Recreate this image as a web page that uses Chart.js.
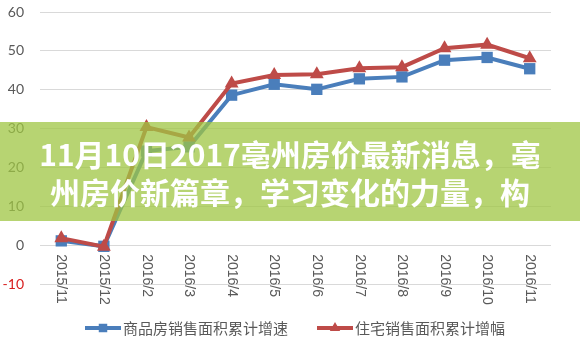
<!DOCTYPE html>
<html>
<head>
<meta charset="utf-8">
<script src="https://cdn.jsdelivr.net/npm/chart.js@4/dist/chart.umd.min.js"></script>
<style>
  body { margin: 0; background: #fff; }
  #wrap { position: relative; width: 580px; height: 344px; }
  #banner {
    position: absolute; left: 0; top: 122px; width: 580px; height: 99px;
    background: rgba(159, 197, 67, 0.75);
    color: #fff; font: bold 30px "Noto Sans CJK SC", sans-serif;
    text-align: center; line-height: 38px; padding-top: 12px; box-sizing: border-box;
    white-space: nowrap;
  }
</style>
</head>
<body>
<div id="wrap">
  <canvas id="salesChart" width="580" height="344"></canvas>
  <div id="banner">11月10日2017亳州房价最新消息，亳<br>州房价新篇章，学习变化的力量，构</div>
</div>
<script>
const months = ['2015/11', '2015/12', '2016/2', '2016/3', '2016/4', '2016/5', '2016/6', '2016/7', '2016/8', '2016/9', '2016/10', '2016/11'];
const salesAreaGrowth = [1.1, -0.3, 24.2, 25.3, 38.6, 41.4, 40.1, 42.8, 43.3, 47.6, 48.3, 45.4];
const housingAreaGrowth = [1.8, -0.4, 30.4, 27.7, 41.6, 43.8, 44.0, 45.5, 45.8, 50.7, 51.6, 48.1];
const seriesNames = ['商品房销售面积累计增速', '住宅销售面积累计增幅'];

const BLUE = '#4A7EBB';
const RED = '#BE4B48';
const GREY = '#595959';

function marker(ctx, style, x, y, r, color) {
    ctx.fillStyle = color;
    ctx.beginPath();
    if (style === 'rect') {
        const s = r * Math.SQRT1_2;
        ctx.rect(x - s, y - s, 2 * s, 2 * s);
    } else {
        ctx.moveTo(x, y - r);
        ctx.lineTo(x + r * 0.866, y + r * 0.5);
        ctx.lineTo(x - r * 0.866, y + r * 0.5);
        ctx.closePath();
    }
    ctx.fill();
}

// rotated month labels under the zero line + legend with line/marker samples
const extras = {
    id: 'extras',
    afterDraw(chart) {
        const ctx = chart.ctx;
        const xs = chart.scales.x, ys = chart.scales.y;
        const y0 = ys.getPixelForValue(0) + 9;
        ctx.save();
        ctx.fillStyle = GREY;
        ctx.font = '14px "Liberation Sans", Arial, sans-serif';
        ctx.textAlign = 'left';
        ctx.textBaseline = 'middle';
        months.forEach((m, i) => {
            ctx.save();
            ctx.translate(xs.getPixelForValue(i), y0);
            ctx.rotate(Math.PI / 2);
            ctx.fillText(m, 0, 0);
            ctx.restore();
        });

        const items = [
            { x: 85, name: seriesNames[0], color: BLUE, style: 'rect' },
            { x: 317, name: seriesNames[1], color: RED, style: 'triangle' }
        ];
        const ly = 328;
        ctx.font = '15px "Noto Sans CJK SC", sans-serif';
        items.forEach(it => {
            ctx.strokeStyle = it.color;
            ctx.lineWidth = 4;
            ctx.beginPath();
            ctx.moveTo(it.x, ly);
            ctx.lineTo(it.x + 36, ly);
            ctx.stroke();
            marker(ctx, it.style, it.x + 18, ly, 6, it.color);
            ctx.fillStyle = GREY;
            ctx.fillText(it.name, it.x + 38, ly);
        });
        ctx.restore();
    }
};

new Chart(document.getElementById('salesChart').getContext('2d'), {
    type: 'line',
    data: {
        labels: months,
        datasets: [
            {
                label: seriesNames[0], data: salesAreaGrowth, order: 1,
                borderColor: BLUE, backgroundColor: BLUE, borderWidth: 4,
                pointStyle: 'rect', pointRadius: 8, pointBorderWidth: 0, tension: 0
            },
            {
                label: seriesNames[1], data: housingAreaGrowth, order: 0,
                borderColor: RED, backgroundColor: RED, borderWidth: 4,
                pointStyle: 'triangle', pointRadius: 8, pointBorderWidth: 0, tension: 0
            }
        ]
    },
    options: {
        responsive: false,
        animation: false,
        devicePixelRatio: 1,
        layout: { padding: { top: 12, right: 29, bottom: 60, left: 0 } },
        plugins: { legend: { display: false }, tooltip: { enabled: false } },
        scales: {
            x: {
                offset: true,
                grid: { display: false },
                border: { display: false },
                ticks: { display: false },
                afterFit: s => { s.height = 0; }
            },
            y: {
                min: -10, max: 60,
                grid: { color: '#D9D9D9', lineWidth: 1, drawTicks: false },
                border: { display: false },
                ticks: {
                    stepSize: 10, padding: 16,
                    color: c => c.tick.value < 0 ? '#D81E1E' : GREY,
                    font: { family: 'Lato, "Open Sans", sans-serif', size: 14 }
                },
                afterFit: s => { s.width = 40; s.paddingTop = 0; s.paddingBottom = 0; }
            }
        }
    },
    plugins: [extras]
});
</script>
</body>
</html>
